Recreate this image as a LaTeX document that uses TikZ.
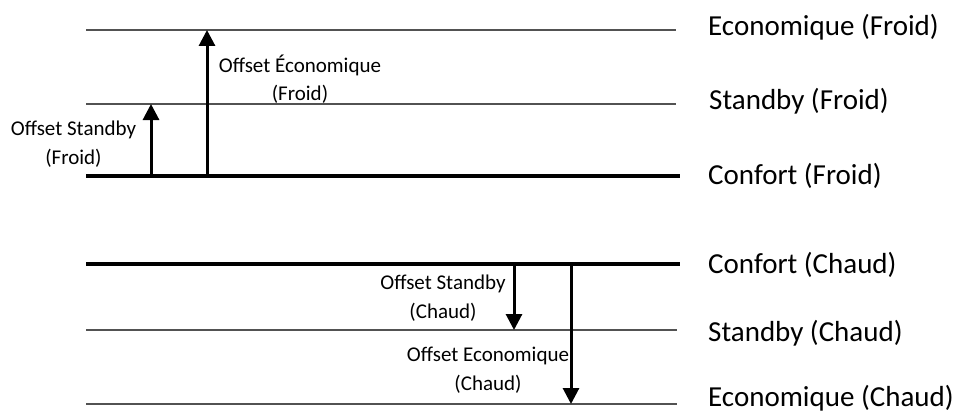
\documentclass[tikz,border=0pt]{standalone}
\usepackage{fontspec}
\setmainfont{Carlito}
\usetikzlibrary{arrows.meta}
\tikzset{
  thinline/.style={line width=1.3pt, draw=black!68},
  thickline/.style={line width=3.4pt, draw=black},
  offarrow/.style={line width=3pt, -{Triangle[width=16pt,length=16pt]}},
  biglabel/.style={anchor=west, inner sep=0pt, font=\fontsize{29}{34}\selectfont},
  smalllabel/.style={align=center, inner sep=0pt, font=\fontsize{21}{28.5}\selectfont}
}
\begin{document}
\begin{tikzpicture}[x=1pt,y=-1pt]
\useasboundingbox (0,0) rectangle (957,412);
% lines
\coordinate (ef1) at (86,30);  \coordinate (ef2) at (676,30);
\coordinate (sf1) at (86,104); \coordinate (sf2) at (676,104);
\coordinate (cf1) at (86,176); \coordinate (cf2) at (680,176);
\coordinate (cc1) at (86,264); \coordinate (cc2) at (680,264);
\coordinate (sc1) at (86,330); \coordinate (sc2) at (677,330);
\coordinate (ec1) at (86,404); \coordinate (ec2) at (677,404);
\draw[thinline] (ef1) -- (ef2);
\draw[thinline] (sf1) -- (sf2);
\draw[thickline] (cf1) -- (cf2);
\draw[thickline] (cc1) -- (cc2);
\draw[thinline] (sc1) -- (sc2);
\draw[thinline] (ec1) -- (ec2);
% arrows
\coordinate (a1s) at (151,176); \coordinate (a1e) at (151,104);
\coordinate (a2s) at (207,176); \coordinate (a2e) at (207,30);
\coordinate (a3s) at (514,264); \coordinate (a3e) at (514,330);
\coordinate (a4s) at (571,264); \coordinate (a4e) at (571,404);
\draw[offarrow] (a1s) -- (a1e);
\draw[offarrow] (a2s) -- (a2e);
\draw[offarrow] (a3s) -- (a3e);
\draw[offarrow] (a4s) -- (a4e);
% right labels
\node[biglabel] (lef) at (708,27) {Economique (Froid)};
\node[biglabel] (lsf) at (709,101) {Standby (Froid)};
\node[biglabel] (lcf) at (708,176) {Confort (Froid)};
\node[biglabel] (lcc) at (708,265) {Confort (Chaud)};
\node[biglabel] (lsc) at (708,333) {Standby (Chaud)};
\node[biglabel] (lec) at (708,398) {Economique (Chaud)};
% offset labels
\node[smalllabel] (osf) at (73.5,144) {Offset Standby\\(Froid)};
\node[smalllabel] (oef) at (300,79) {Offset Économique\\(Froid)};
\node[smalllabel] (osc) at (443,298) {Offset Standby\\(Chaud)};
\node[smalllabel] (oec) at (488,370) {Offset Economique\\(Chaud)};
\end{tikzpicture}
\end{document}
